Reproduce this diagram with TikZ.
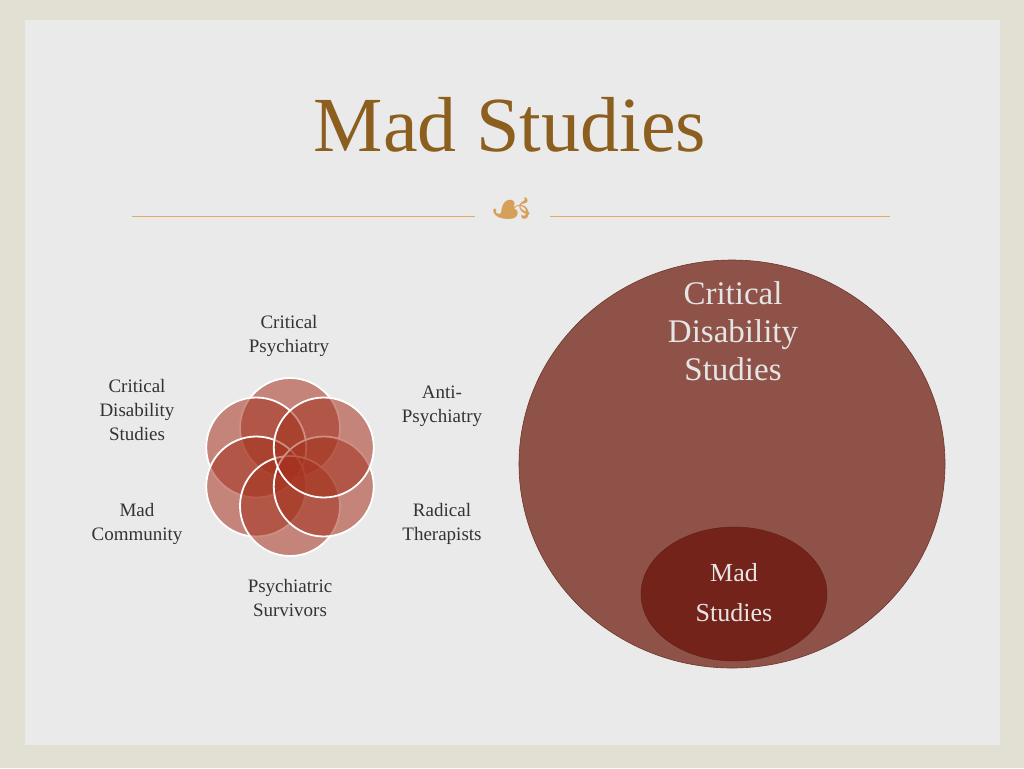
\documentclass[tikz,border=0pt]{standalone}
\usepackage{fontspec}
\setmainfont{Liberation Serif}
\newfontfamily\dejavu{DejaVu Sans}
\usetikzlibrary{calc}
\definecolor{frame}{RGB}{226,224,210}
\definecolor{bg}{RGB}{234,234,234}
\definecolor{titlec}{RGB}{140,95,30}
\definecolor{rulec}{RGB}{225,170,100}
\definecolor{ornc}{RGB}{215,160,90}
\definecolor{petalc}{RGB}{165,50,30}
\definecolor{bigc}{RGB}{142,82,72}
\definecolor{bigd}{RGB}{110,55,45}
\definecolor{smallc}{RGB}{115,35,25}
\definecolor{smalld}{RGB}{95,30,20}
\begin{document}
\begin{tikzpicture}[x=1pt,y=-1pt,
  petal/.style={circle,minimum size=100pt,fill=petalc,fill opacity=0.55,draw=white,line width=1.8pt,draw opacity=1},
  lab/.style={align=center,font=\fontsize{19}{24}\selectfont,text=black!80},
  biglab/.style={align=center,font=\fontsize{33}{38}\selectfont,text=white!90!black}]
\fill[frame] (0,0) rectangle (1024,768);
\fill[bg] (25,20) rectangle (1000,745);
\useasboundingbox (0,0) rectangle (1024,768);
\node[font=\fontsize{78}{90}\selectfont,text=titlec] (title) at (510,125) {Mad Studies};
\draw[rulec,line width=1pt] (132,216) -- (475,216) (550,216) -- (890,216);
\node[font=\dejavu\fontsize{50}{52}\selectfont,text=ornc] (orn) at (512,212) {☙};
\foreach \a/\n in {90/p1,30/p2,-30/p3,-90/p4,-150/p5,150/p6}
  \node[petal] (\n) at ($(290,467)+(\a:-39)$) {};
\node[lab] (l1) at (289,336) {Critical\\Psychiatry};
\node[lab] (l2) at (442,406) {Anti-\\Psychiatry};
\node[lab] (l3) at (442,524) {Radical\\Therapists};
\node[lab] (l4) at (290,598) {Psychiatric\\Survivors};
\node[lab] (l5) at (137,524) {Mad\\Community};
\node[lab] (l6) at (137,410) {Critical\\Disability\\Studies};
\fill[bigc,draw=bigd,line width=0.6pt] (732,464) ellipse (213 and 204);
\node[biglab] (big) at (733,331) {Critical\\Disability\\Studies};
\fill[smallc,draw=smalld] (734,594) ellipse (93 and 67);
\node[align=center,font=\fontsize{26}{40}\selectfont,text=white!90!black] (mad) at (734,593) {Mad\\Studies};
\end{tikzpicture}
\end{document}
